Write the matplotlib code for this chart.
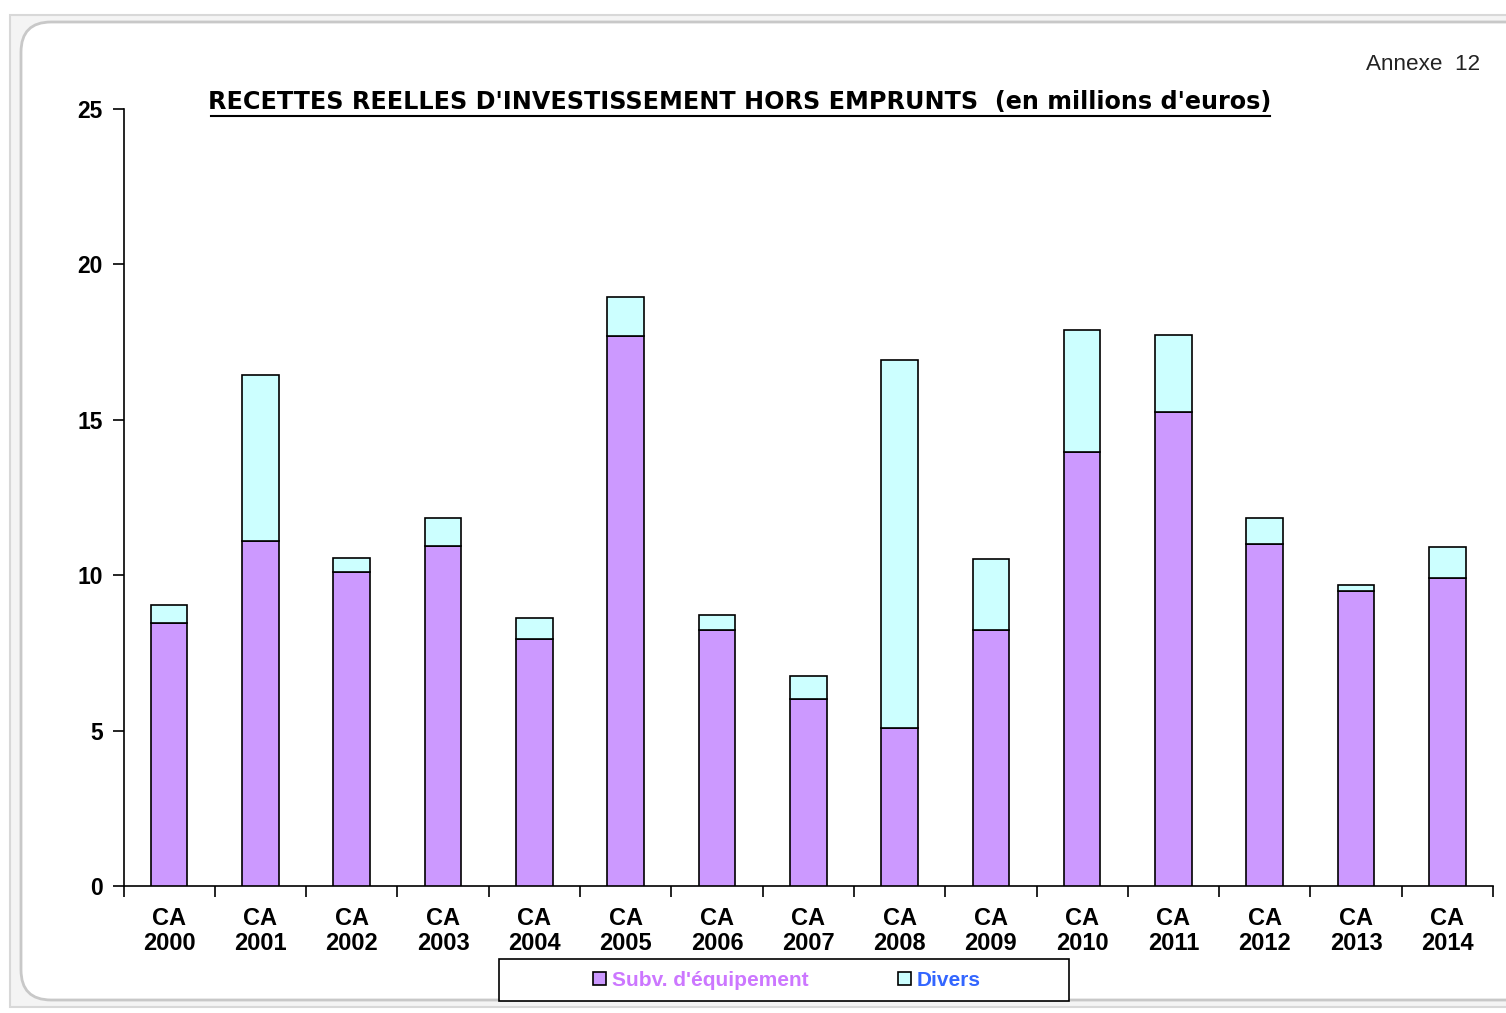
import matplotlib
matplotlib.use("Agg")
import matplotlib.pyplot as plt
from matplotlib.patches import FancyBboxPatch, Patch, Rectangle
from matplotlib.lines import Line2D
import numpy as np

years = ["2000", "2001", "2002", "2003", "2004", "2005", "2006", "2007",
         "2008", "2009", "2010", "2011", "2012", "2013", "2014"]
categories = ["CA\n" + y for y in years]
subv = [8.46, 11.10, 10.10, 10.94, 7.95, 17.70, 8.24, 6.02, 5.08, 8.24, 13.96, 15.25, 11.00, 9.49, 9.91]
divers = [0.58, 5.34, 0.45, 0.90, 0.67, 1.25, 0.48, 0.74, 11.84, 2.28, 3.93, 2.48, 0.84, 0.19, 1.00]
yticks = [0, 5, 10, 15, 20, 25]

W, H = 1506, 1013
fig = plt.figure(figsize=(W / 100, H / 100), dpi=100)
fig.patch.set_facecolor("white")

# outer panel frame
outer = FancyBboxPatch((10 / W, 6 / H), 1.2, (H - 21) / H,
                       boxstyle="square,pad=0", transform=fig.transFigure,
                       facecolor="#f4f4f4", edgecolor="#d8d8d8", linewidth=1.5, zorder=-2)
fig.patches.append(outer)
inner = FancyBboxPatch((21 / W, 13 / H), 1.2, (H - 35) / H,
                       boxstyle="round,pad=0,rounding_size=0.02", transform=fig.transFigure,
                       facecolor="white", edgecolor="#c8c8c8", linewidth=2, zorder=-1,
                       mutation_aspect=W / H)
fig.patches.append(inner)

ax = fig.add_axes([123.5 / W, 1 - 886 / H, 1369.5 / W, (886 - 109) / H])
ax.set_zorder(2)
ax.set_facecolor("none")
x = np.arange(len(categories))
ax.bar(x, subv, width=0.4, color="#cc99ff", edgecolor="black", linewidth=1.2, zorder=3)
ax.bar(x, divers, width=0.4, bottom=subv, color="#ccffff", edgecolor="black", linewidth=1.2, zorder=3)

ax.set_xlim(-0.5, len(categories) - 0.5)
ax.set_ylim(0, 25)
ax.set_yticks(yticks)
ax.set_yticklabels([str(v) for v in yticks], fontsize=16.5, fontweight="bold", family="Liberation Sans")
ax.set_xticks(x)
ax.set_xticklabels(categories, fontsize=17, fontweight="bold", family="Liberation Sans",
                   linespacing=1.1)
ax.set_xticks(np.arange(len(categories) + 1) - 0.5, minor=True)
ax.tick_params(axis="x", which="major", length=0, pad=15)
ax.tick_params(axis="x", which="minor", length=8, width=1.2, direction="out")
ax.tick_params(axis="y", length=8, width=1.2, direction="out", pad=7)
for s in ["top", "right"]:
    ax.spines[s].set_visible(False)
for s in ["left", "bottom"]:
    ax.spines[s].set_linewidth(1.2)

# title
fig.text(740 / W, 1 - 102 / H,
         "RECETTES REELLES D'INVESTISSEMENT HORS EMPRUNTS  (en millions d'euros)",
         ha="center", va="center", fontsize=17.2, fontweight="bold",
         family="DejaVu Sans", zorder=3)
fig.add_artist(Line2D([211 / W, 1270 / W], [1 - 116 / H, 1 - 116 / H],
                      transform=fig.transFigure, color="black", linewidth=1.5, zorder=3))

fig.text(1480 / W, 1 - 65 / H, "Annexe  12", ha="right", va="center",
         fontsize=16.2, family="Liberation Sans", color="#222222", zorder=3)

# legend
fig.add_artist(Rectangle((499 / W, 1 - 1001 / H), (1069 - 499) / W, 42 / H,
                         transform=fig.transFigure, facecolor="white",
                         edgecolor="black", linewidth=1.2, zorder=3))
handles = [Patch(facecolor="#cc99ff", edgecolor="black", linewidth=1.2),
           Patch(facecolor="#ccffff", edgecolor="black", linewidth=1.2)]
leg = fig.legend(handles, ["Subv. d'équipement", "Divers"], loc="center",
                 bbox_to_anchor=(787 / W, 1 - 980 / H), ncol=2, frameon=False,
                 handlelength=0.6, handleheight=0.6,
                 handletextpad=0.3, columnspacing=4.3, borderpad=0.2,
                 prop={"family": "Liberation Sans", "weight": "bold", "size": 15})
leg.set_zorder(4)
leg.get_texts()[0].set_color("#cc77ff")
leg.get_texts()[1].set_color("#3366ff")

fig.savefig("out.png", dpi=100)
